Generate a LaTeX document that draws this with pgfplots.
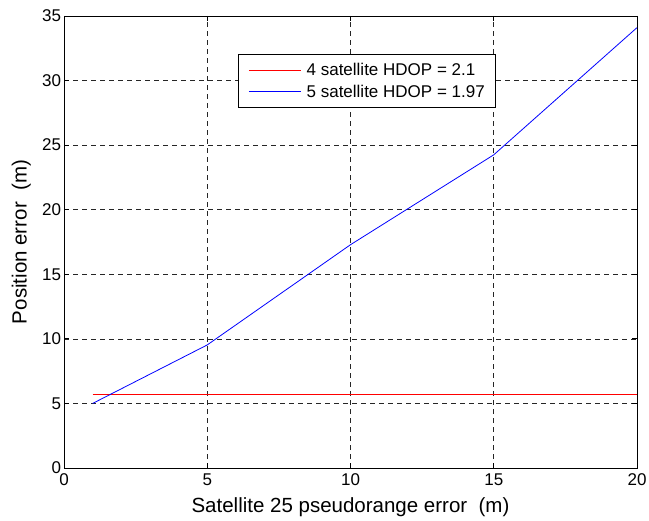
\documentclass[border=0pt]{standalone}
\usepackage{pgfplots}
\pgfplotsset{compat=1.18}
\usepackage{fontspec}
\setmainfont{Liberation Sans}
\begin{document}
\begin{tikzpicture}
\begin{axis}[
  at={(0,0)}, anchor=south west,
  scale only axis, width=573bp, height=452bp,
  xmin=0, xmax=20, ymin=0, ymax=35,
  xtick={0,5,10,15,20}, ytick={0,5,10,15,20,25,30,35},
  tick align=inside, major tick length=5bp,
  axis line style={line width=0.9bp},
  every tick/.style={black, line width=0.8bp},
  grid=major,
  major grid style={dash pattern=on 5bp off 4bp, black!85, line width=0.6bp},
  /pgf/number format/assume math mode=true,
  ticklabel style={font=\fontsize{17bp}{17bp}\selectfont},
  yticklabel style={xshift=0.5bp},
  xticklabel style={yshift=-2bp},
  xlabel={Satellite 25 pseudorange error\ \ (m)},
  ylabel={Position error\ \ (m)},
  label style={font=\fontsize{20.5bp}{20.5bp}\selectfont},
  xlabel style={at={(axis description cs:0.5,-0.0985)}, anchor=base},
  ylabel style={at={(axis description cs:-0.0651,0.5)}, anchor=base, rotate=0},
  legend style={at={(axis description cs:0.3035,0.9155)}, anchor=north west,
    draw=black, line width=0.9bp, fill=white,
    font=\fontsize{17bp}{17bp}\selectfont,
    inner xsep=10bp, inner ysep=8bp, row sep=7bp, column sep=4.5bp,
    nodes={inner xsep=1bp, inner ysep=0.5bp},
    cells={anchor=west}},
  legend image code/.code={\draw[#1] (0bp,0bp) -- (52bp,0bp);},
]
\addplot[red, line width=0.8bp] coordinates {(1,5.7) (20,5.7)};
\addlegendentry{4 satellite HDOP = 2.1}
\addplot[blue, line width=0.8bp] coordinates {(1,5.0) (5,9.53) (10,17.29) (15,24.25) (20,34.1)};
\addlegendentry{5 satellite HDOP = 1.97}
\end{axis}
\pgfresetboundingbox
\path (-64bp,-53bp) rectangle (585bp,468bp);
\end{tikzpicture}
\end{document}
